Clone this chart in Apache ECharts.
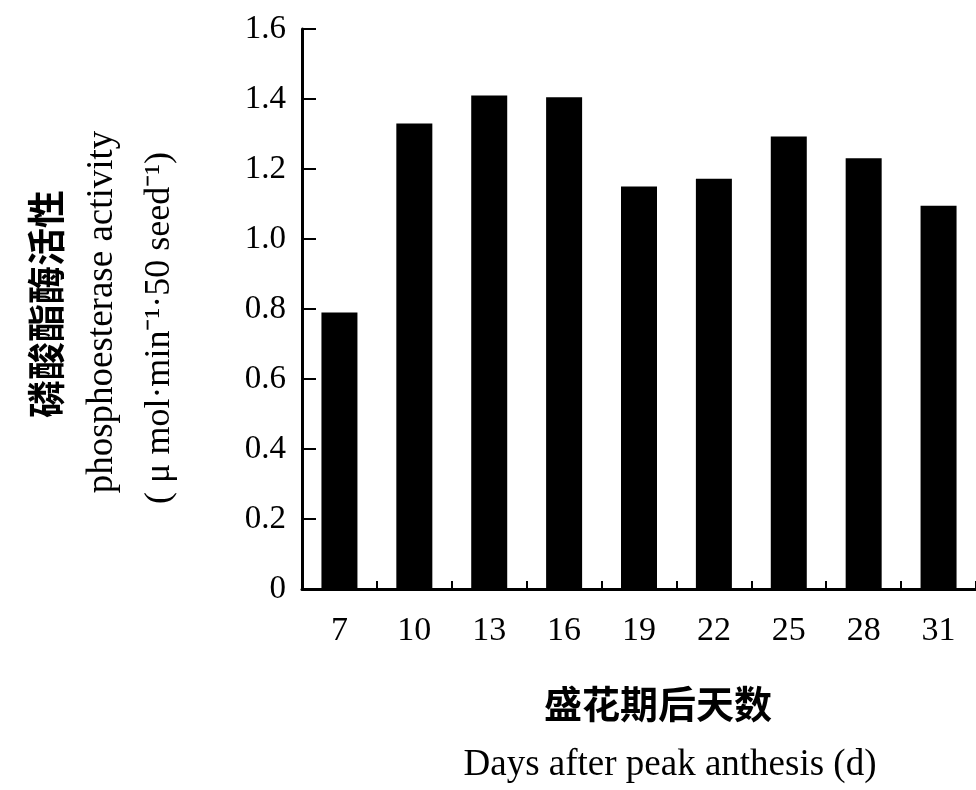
<!DOCTYPE html>
<html>
<head>
<meta charset="utf-8">
<script src="https://cdn.jsdelivr.net/npm/echarts@6/dist/echarts.min.js"></script>
<style>
html,body{margin:0;padding:0;background:#fff;}
#chart{width:976px;height:790px;}
</style>
</head>
<body>
<div id="chart"></div>
<script>
// Data
const days = ['7', '10', '13', '16', '19', '22', '25', '28', '31'];
const activity = [0.79, 1.33, 1.41, 1.405, 1.15, 1.172, 1.293, 1.231, 1.095];
const yTicks = [0, 0.2, 0.4, 0.6, 0.8, 1.0, 1.2, 1.4, 1.6];

const yTitleCn = '磷酸酯酶活性';
const yTitleEn = 'phosphoesterase activity';
const yTitleUnit = '( μ mol·min⁻¹·50 seed⁻¹)';
const xTitleCn = '盛花期后天数';
const xTitleEn = 'Days after peak anthesis (d)';

const serif = '"Liberation Serif", "Times New Roman", serif';
const cjk = '"Noto Sans CJK SC", sans-serif';

const chart = echarts.init(document.getElementById('chart'), null, {renderer: 'canvas'});
chart.setOption({
  backgroundColor: '#fff',
  animation: false,
  grid: {left: 302, right: -1, top: 29, bottom: 201, containLabel: false},
  xAxis: {
    type: 'category',
    data: days,
    boundaryGap: true,
    axisLine: {show: true, lineStyle: {color: '#000', width: 3}},
    axisTick: {show: true, inside: true, length: 8, alignWithLabel: false, lineStyle: {color: '#000', width: 2}},
    axisLabel: {color: '#000', fontFamily: serif, fontSize: 34, margin: 25, interval: 0},
    splitLine: {show: false},
    name: '{cn|' + xTitleCn + '}\n{en|' + xTitleEn + '}',
    nameLocation: 'middle',
    nameGap: 85,
    nameTextStyle: {
      padding: [0, 0, 0, 38],
      rich: {
        cn: {fontFamily: cjk, fontWeight: 'bold', fontSize: 38, lineHeight: 60, color: '#000', align: 'center'},
        en: {fontFamily: serif, fontSize: 37, lineHeight: 62, color: '#000', align: 'center', padding: [0, 0, 0, 24]}
      }
    }
  },
  yAxis: {
    type: 'value',
    min: yTicks[0],
    max: yTicks[yTicks.length - 1],
    interval: 0.2,
    axisLine: {show: true, lineStyle: {color: '#000', width: 3}},
    axisTick: {show: true, inside: true, length: 14, lineStyle: {color: '#000', width: 2}},
    axisLabel: {
      color: '#000', fontFamily: serif, fontSize: 33, margin: 16,
      formatter: function (v) { return v === 0 ? '0' : v.toFixed(1); }
    },
    splitLine: {show: false},
    name: '{cn|' + yTitleCn + '}\n{en|' + yTitleEn + '}\n{un|' + yTitleUnit + '}',
    nameLocation: 'middle',
    nameRotate: 90,
    nameGap: 114,
    nameTextStyle: {
      rich: {
        cn: {fontFamily: cjk, fontWeight: 'bold', fontSize: 38, lineHeight: 57, color: '#000', align: 'center', padding: [0, 0, 0, 10]},
        en: {fontFamily: serif, fontSize: 37, lineHeight: 57, color: '#000', align: 'center', padding: [0, 6, 0, 0]},
        un: {fontFamily: serif, fontSize: 36, lineHeight: 57, color: '#000', align: 'center', padding: [0, 38, 0, 0]}
      }
    }
  },
  series: [{
    type: 'bar',
    data: activity,
    barWidth: 36,
    itemStyle: {color: '#000'}
  }]
});
</script>
</body>
</html>
